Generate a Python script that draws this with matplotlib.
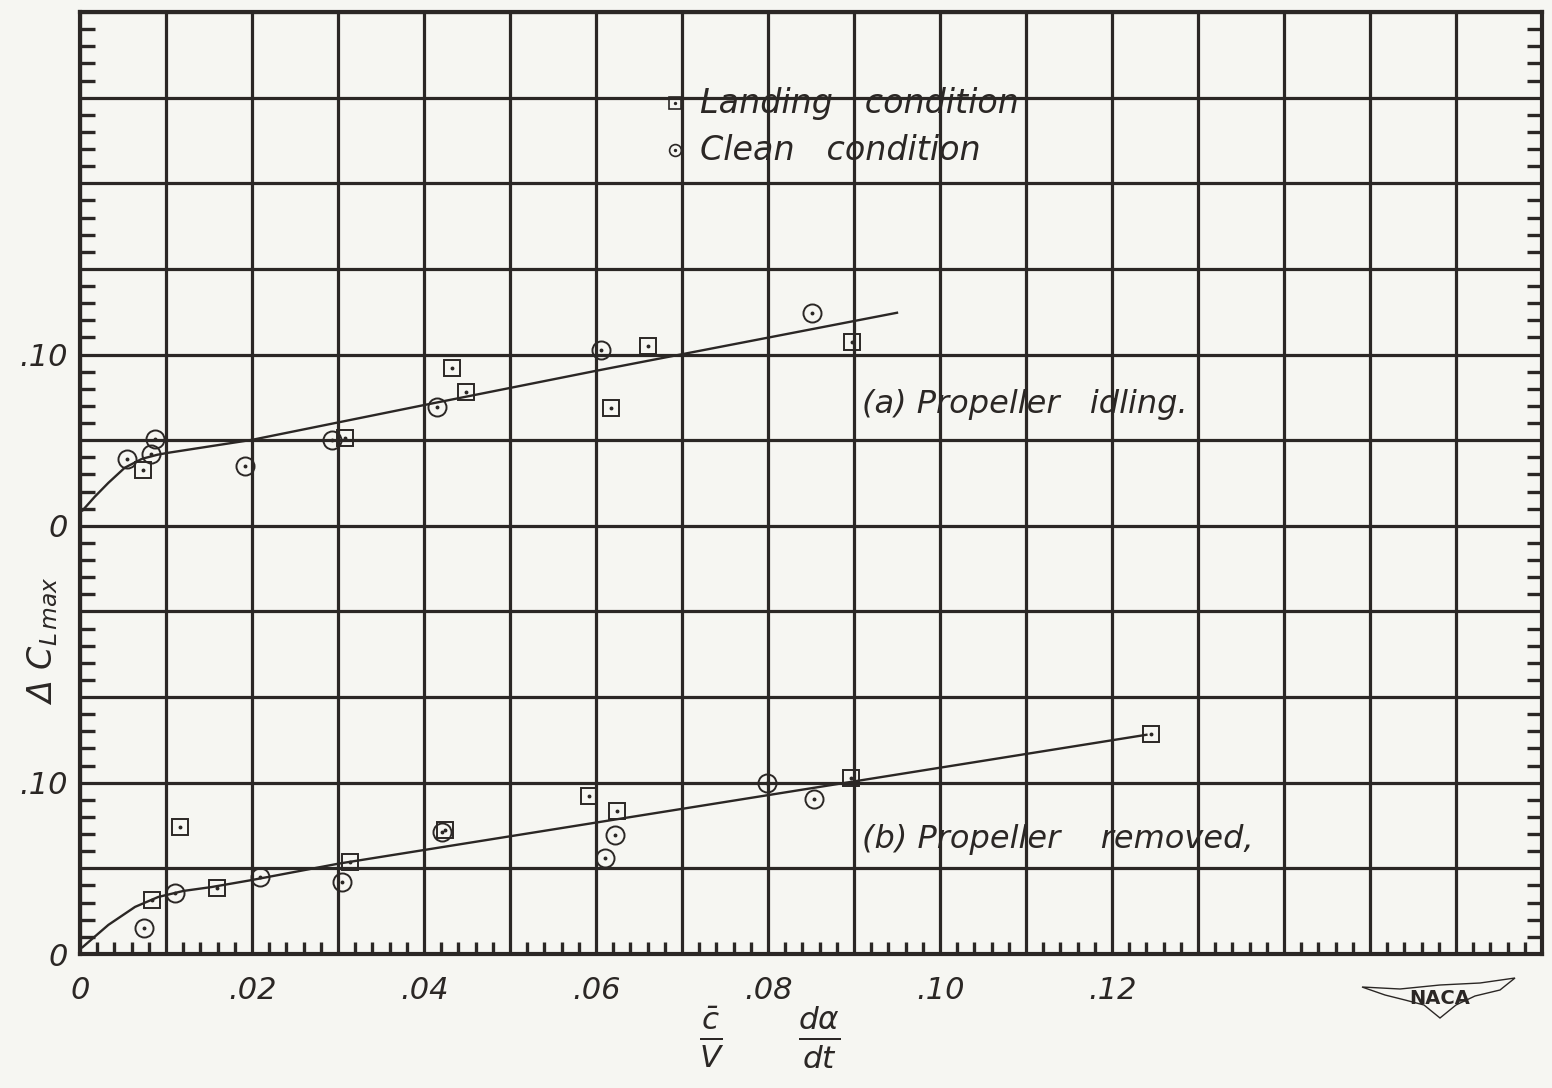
import numpy as np
import matplotlib
matplotlib.use("Agg")
import matplotlib.pyplot as plt
from matplotlib.ticker import MultipleLocator, FixedLocator, FixedFormatter
from matplotlib.path import Path
from matplotlib.patches import PathPatch


INK = "#2b2725"
PAPER = "#f6f6f2"

# part (a) sits 0.25 above part (b) on the same sheet
PANEL_A_OFFSET = 0.25

# (a) Propeller idling
a_land_x = [0.0073, 0.0308, 0.0433, 0.0449, 0.0617, 0.0660, 0.0898]
a_land_y = [0.0327, 0.0514, 0.0923, 0.0783, 0.0689, 0.1051, 0.1075]
a_clean_x = [0.0055, 0.0083, 0.0087, 0.0192, 0.0293, 0.0415, 0.0606, 0.0851]
a_clean_y = [0.0391, 0.0421, 0.0508, 0.0350, 0.0502, 0.0695, 0.1028, 0.1244]
a_fair_x = [0.0003, 0.0017, 0.0033, 0.0052, 0.0072, 0.0090, 0.0102, 0.0200, 0.0400, 0.0600, 0.0950]
a_fair_y = [0.0090, 0.0169, 0.0251, 0.0339, 0.0391, 0.0415, 0.0426, 0.0502, 0.0705, 0.0905, 0.1244]

# (b) Propeller removed
b_land_x = [0.0084, 0.0116, 0.0159, 0.0314, 0.0424, 0.0592, 0.0624, 0.0897, 0.1245]
b_land_y = [0.0315, 0.0742, 0.0386, 0.0537, 0.0724, 0.0923, 0.0835, 0.1028, 0.1285]
b_clean_x = [0.0074, 0.0110, 0.0209, 0.0305, 0.0421, 0.0610, 0.0622, 0.0799, 0.0853]
b_clean_y = [0.0152, 0.0356, 0.0450, 0.0421, 0.0713, 0.0561, 0.0695, 0.0999, 0.0905]
b_fair_x = [0.0003, 0.0033, 0.0064, 0.0091, 0.0120, 0.0153, 0.0200, 0.0300, 0.1240]
b_fair_y = [0.0040, 0.0170, 0.0275, 0.0333, 0.0368, 0.0391, 0.0432, 0.0527, 0.1280]

x_tick_values = [0.0, 0.02, 0.04, 0.06, 0.08, 0.10, 0.12]
x_tick_labels = ["0", ".02", ".04", ".06", ".08", ".10", ".12"]
y_tick_values = [0.0, 0.10, 0.25, 0.35]
y_tick_labels = ["0", ".10", "0", ".10"]

X_MAX = 0.17
Y_MAX = 0.55


def draw_points(ax, x, y, marker, size):
    ax.plot(x, y, linestyle="none", marker=marker, ms=size, mfc="none",
            mec=INK, mew=1.4, zorder=4)
    ax.plot(x, y, linestyle="none", marker="o", ms=1.8, color=INK, zorder=4)


def labels_for(grid_values, values, labels):
    out = []
    for v in grid_values:
        hit = [lab for val, lab in zip(values, labels) if abs(val - v) < 1e-6]
        out.append(hit[0] if hit else "")
    return out


def main():
    plt.rcParams["font.family"] = "DejaVu Sans"
    plt.rcParams["font.style"] = "italic"
    plt.rcParams["mathtext.fontset"] = "dejavusans"

    fig = plt.figure(figsize=(15.52, 10.88), dpi=100, facecolor=PAPER)
    ax = fig.add_axes([80 / 1552, 134 / 1088, 1462 / 1552, 942 / 1088])
    ax.set_facecolor(PAPER)
    ax.set_xlim(0, X_MAX)
    ax.set_ylim(0, Y_MAX)

    # heavy grid every .01 across, every .05 up; only a few lines carry numbers
    x_grid = list(np.round(np.arange(0, X_MAX + 1e-9, 0.01), 3))
    y_grid = list(np.round(np.arange(0, Y_MAX + 1e-9, 0.05), 3))
    ax.xaxis.set_major_locator(FixedLocator(x_grid))
    ax.xaxis.set_major_formatter(FixedFormatter(labels_for(x_grid, x_tick_values, x_tick_labels)))
    ax.yaxis.set_major_locator(FixedLocator(y_grid))
    ax.yaxis.set_major_formatter(FixedFormatter(labels_for(y_grid, y_tick_values, y_tick_labels)))
    ax.grid(True, which="major", color=INK, lw=2.3, zorder=1)
    ax.set_axisbelow(True)

    ax.xaxis.set_minor_locator(MultipleLocator(0.002))
    ax.yaxis.set_minor_locator(MultipleLocator(0.01))
    ax.tick_params(which="major", length=0, labelsize=22, colors=INK)
    ax.tick_params(axis="x", which="major", pad=16)
    ax.tick_params(axis="y", which="major", pad=9)
    ax.tick_params(axis="x", which="minor", direction="in", length=9, width=2.4,
                   color=INK, top=False, bottom=True)
    ax.tick_params(axis="y", which="minor", direction="in", length=11, width=2.4,
                   color=INK, left=True, right=True)

    for sp in ax.spines.values():
        sp.set_color(INK)
        sp.set_linewidth(3.0)

    # faired curves
    ax.plot(a_fair_x, np.array(a_fair_y) + PANEL_A_OFFSET, color=INK, lw=1.7, zorder=3)
    ax.plot(b_fair_x, b_fair_y, color=INK, lw=1.7, zorder=3)

    draw_points(ax, a_land_x, np.array(a_land_y) + PANEL_A_OFFSET, "s", 12)
    draw_points(ax, a_clean_x, np.array(a_clean_y) + PANEL_A_OFFSET, "o", 13)
    draw_points(ax, b_land_x, b_land_y, "s", 12)
    draw_points(ax, b_clean_x, b_clean_y, "o", 13)

    ax.text(0.0909, 0.3207, "(a) Propeller   idling.", fontsize=23, color=INK,
            va="center", ha="left", zorder=5)
    ax.text(0.0909, 0.0666, "(b) Propeller    removed,", fontsize=23, color=INK,
            va="center", ha="left", zorder=5)

    # key
    key_x = (675 - 80) / 1462
    for yy, mk, size, lab in [(103, "s", 8, "Landing   condition"),
                              (150, "o", 8.5, "Clean   condition")]:
        ky = (954 - yy) / 942
        ax.plot([key_x], [ky], marker=mk, ms=size, mfc="none", mec=INK, mew=1.2,
                transform=ax.transAxes, clip_on=False, zorder=5)
        ax.plot([key_x], [ky], marker="o", ms=1.4, color=INK,
                transform=ax.transAxes, clip_on=False, zorder=5)
        ax.text((700 - 80) / 1462, ky, lab, fontsize=24, color=INK,
                transform=ax.transAxes, va="center", ha="left", zorder=5)

    ax.set_ylabel(r"$\Delta\ C_{L\,max}$", fontsize=24, color=INK)
    ax.yaxis.set_label_coords(-0.014, 0.333)
    ax.text(0.472, -0.088, r"$\frac{\bar{c}}{V}\ \ \ \ \ \frac{d\alpha}{dt}$",
            fontsize=32, color=INK, transform=ax.transAxes, ha="center", va="center")

    # NACA wing badge
    def px(x, y):
        return (x / 1552, 1 - y / 1088)
    wing = [(1362, 987), (1400, 989), (1440, 985), (1480, 983), (1515, 978),
            (1500, 990), (1475, 996), (1456, 1005), (1440, 1018), (1424, 1005),
            (1405, 1000), (1385, 995), (1362, 987)]
    verts = [px(*p) for p in wing]
    codes = [Path.MOVETO] + [Path.LINETO] * (len(verts) - 2) + [Path.CLOSEPOLY]
    fig.add_artist(PathPatch(Path(verts, codes), transform=fig.transFigure,
                             facecolor="none", edgecolor=INK, lw=1.0))
    fig.text(*px(1440, 998), "NACA", fontsize=14, fontstyle="normal",
             fontweight="bold", color=INK, ha="center", va="center")

    fig.savefig("out.png", dpi=100, facecolor=PAPER)


if __name__ == "__main__":
    main()
